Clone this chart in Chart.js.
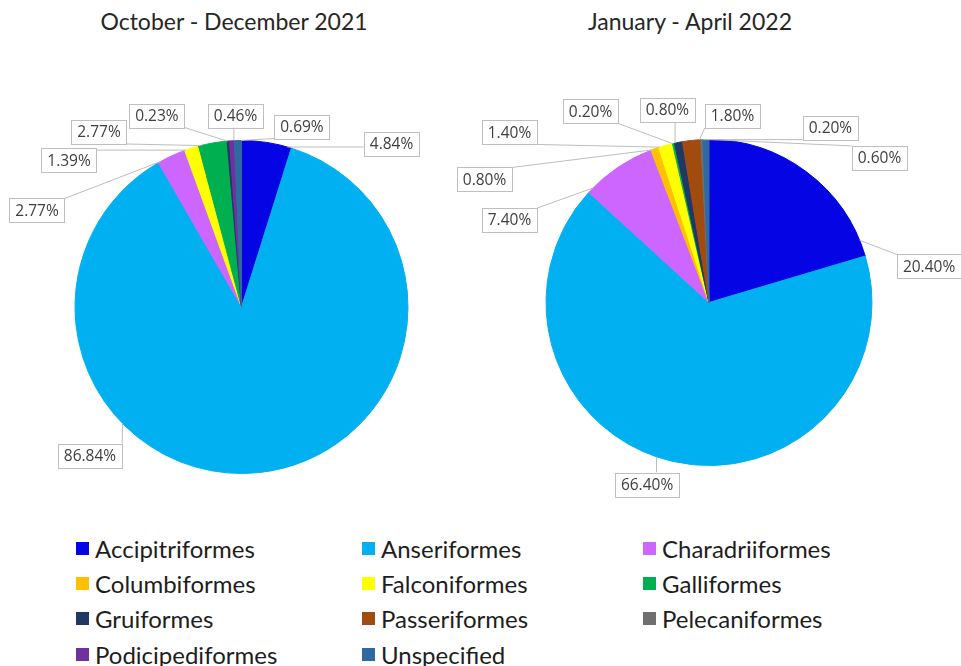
<!DOCTYPE html>
<html>
<head>
<meta charset="utf-8">
<title>Bird orders</title>
<script src="https://cdn.jsdelivr.net/npm/chart.js@4.4.1/dist/chart.umd.min.js"></script>
<style>
  html, body { margin: 0; padding: 0; background: #ffffff; }
  #stage { position: relative; width: 961px; height: 666px; overflow: hidden; font-family: Lato, "Open Sans", sans-serif; }
  #stage canvas { position: absolute; top: 0; }
  .pie-title { position: absolute; top: 7px; height: 28px; line-height: 28px; font-size: 23px; color: #262626; white-space: nowrap; transform: translateX(-50%); }
  .legend-item { position: absolute; display: flex; align-items: center; height: 30px; font-size: 24px; color: #1e1e1e; white-space: nowrap; }
  .legend-item .swatch { display: inline-block; width: 13px; height: 13px; margin-right: 6px; }
</style>
</head>
<body>
<div id="stage">
  <div class="pie-title" style="left:234px">October - December 2021</div>
  <div class="pie-title" style="left:690px">January - April 2022</div>
  <canvas id="pie2021" width="480" height="500" style="left:0px"></canvas>
  <canvas id="pie2022" width="521" height="510" style="left:440px"></canvas>
</div>
<script>
// Bird orders and their share of cases (%) in each period
const categories = [
  'Accipitriformes', 'Anseriformes', 'Charadriiformes', 'Columbiformes',
  'Falconiformes', 'Galliformes', 'Gruiformes', 'Passeriformes',
  'Pelecaniformes', 'Podicipediformes', 'Unspecified'
];
const pctOctDec2021 = [4.84, 86.84, 2.77, 0, 1.39, 2.77, 0.23, 0, 0, 0.46, 0.69];
const pctJanApr2022 = [20.40, 66.40, 7.40, 0.80, 1.40, 0.20, 0.80, 1.80, 0.20, 0, 0.60];

const colors = [
  '#0404E4', '#00B0F0', '#CC66FF', '#FFC000',
  '#FFFF00', '#00B050', '#203864', '#A24B0F',
  '#6F6F6F', '#7030A0', '#2E6AA0'
];

// Callout box centres, expressed as offsets from the pie centre in units of the radius
const callouts2021 = [
  [0.901, -0.979], [-0.910, 0.892], [-1.228, -0.580], null,
  [-1.036, -0.880], [-0.856, -1.051], [-0.508, -1.150], null,
  null, [-0.036, -1.150], [0.363, -1.084]
];
const callouts2022 = [
  [1.350, -0.221], [-0.380, 1.117], [-1.224, -0.506], [-1.377, -0.755],
  [-1.224, -1.043], [-0.727, -1.172], [-0.255, -1.181], [0.144, -1.144],
  [0.745, -1.071], null, [1.046, -0.887]
];

// Draws boxed percentage labels joined to their slice by a leader line
const calloutPlugin = {
  id: 'callouts',
  afterDatasetsDraw(chart, args, opts) {
    const ctx = chart.ctx;
    const meta = chart.getDatasetMeta(0);
    const values = chart.data.datasets[0].data;
    const items = [];
    ctx.save();
    ctx.font = opts.font;
    meta.data.forEach((arc, i) => {
      const v = values[i];
      const place = opts.placement[i];
      if (!v || !place) return;
      const p = arc.getProps(['x', 'y', 'outerRadius', 'startAngle', 'endAngle'], true);
      const r = p.outerRadius;
      const bx = p.x + place[0] * r;
      const by = p.y + place[1] * r;
      const text = v.toFixed(2) + '%';
      const w = ctx.measureText(text).width + 2 * opts.padX;
      const h = opts.boxHeight;
      const x0 = bx - w / 2, y0 = by - h / 2;
      // leader attaches to the slice edge, turned toward the box but kept inside the slice
      let a = Math.atan2(by - p.y, bx - p.x);
      const mid = (p.startAngle + p.endAngle) / 2;
      while (a < mid - Math.PI) a += 2 * Math.PI;
      while (a > mid + Math.PI) a -= 2 * Math.PI;
      const inset = (p.endAngle - p.startAngle) * 0.08;
      a = Math.min(Math.max(a, p.startAngle + inset), p.endAngle - inset);
      const ax = p.x + Math.cos(a) * r;
      const ay = p.y + Math.sin(a) * r;
      const lx = Math.min(Math.max(ax, x0), x0 + w);
      const ly = Math.min(Math.max(ay, y0), y0 + h);
      items.push({ text, bx, by, x0, y0, w, h, ax, ay, lx, ly });
    });
    ctx.strokeStyle = opts.lineColor;
    ctx.lineWidth = 1;
    items.forEach(it => {
      ctx.beginPath();
      ctx.moveTo(it.ax, it.ay);
      ctx.lineTo(it.lx, it.ly);
      ctx.stroke();
    });
    items.forEach(it => {
      ctx.fillStyle = '#ffffff';
      ctx.fillRect(it.x0, it.y0, it.w, it.h);
      ctx.strokeStyle = opts.boxBorder;
      ctx.strokeRect(Math.round(it.x0) + 0.5, Math.round(it.y0) + 0.5, Math.round(it.w), Math.round(it.h));
      ctx.fillStyle = opts.color;
      ctx.textAlign = 'center';
      ctx.textBaseline = 'middle';
      ctx.fillText(it.text, it.bx, it.by + 1);
    });
    ctx.restore();
  }
};

function makePie(id, values, placement, padding) {
  return new Chart(document.getElementById(id), {
    type: 'pie',
    data: {
      labels: categories,
      datasets: [{
        data: values,
        backgroundColor: colors,
        borderColor: colors,
        borderWidth: c => (c.raw > 0 ? 1 : 0)
      }]
    },
    options: {
      responsive: false,
      animation: false,
      events: [],
      layout: { padding },
      plugins: {
        legend: { display: false },
        tooltip: { enabled: false },
        callouts: {
          placement,
          font: '15.5px "Open Sans"',
          color: '#404040',
          boxBorder: '#bfbfbf',
          lineColor: '#bdbdbd',
          padX: 6,
          boxHeight: 24
        }
      }
    },
    plugins: [calloutPlugin]
  });
}

// chart area sized so the pie radius and centre land where they should
makePie('pie2021', pctOctDec2021, callouts2021, { top: 140, bottom: 26, left: 3, right: 0 });
makePie('pie2022', pctJanApr2022, callouts2022, { top: 139, bottom: 44, left: 17, right: 0 });

// Shared legend built from the same categories and colours
const stage = document.getElementById('stage');
const colX = [76, 362, 643];
const rowY = [548, 583, 618, 654];
categories.forEach((name, i) => {
  const item = document.createElement('div');
  item.className = 'legend-item';
  item.style.left = colX[i % 3] + 'px';
  item.style.top = (rowY[Math.floor(i / 3)] - 15) + 'px';
  const sw = document.createElement('span');
  sw.className = 'swatch';
  sw.style.background = colors[i];
  item.appendChild(sw);
  item.appendChild(document.createTextNode(name));
  stage.appendChild(item);
});
</script>
</body>
</html>
